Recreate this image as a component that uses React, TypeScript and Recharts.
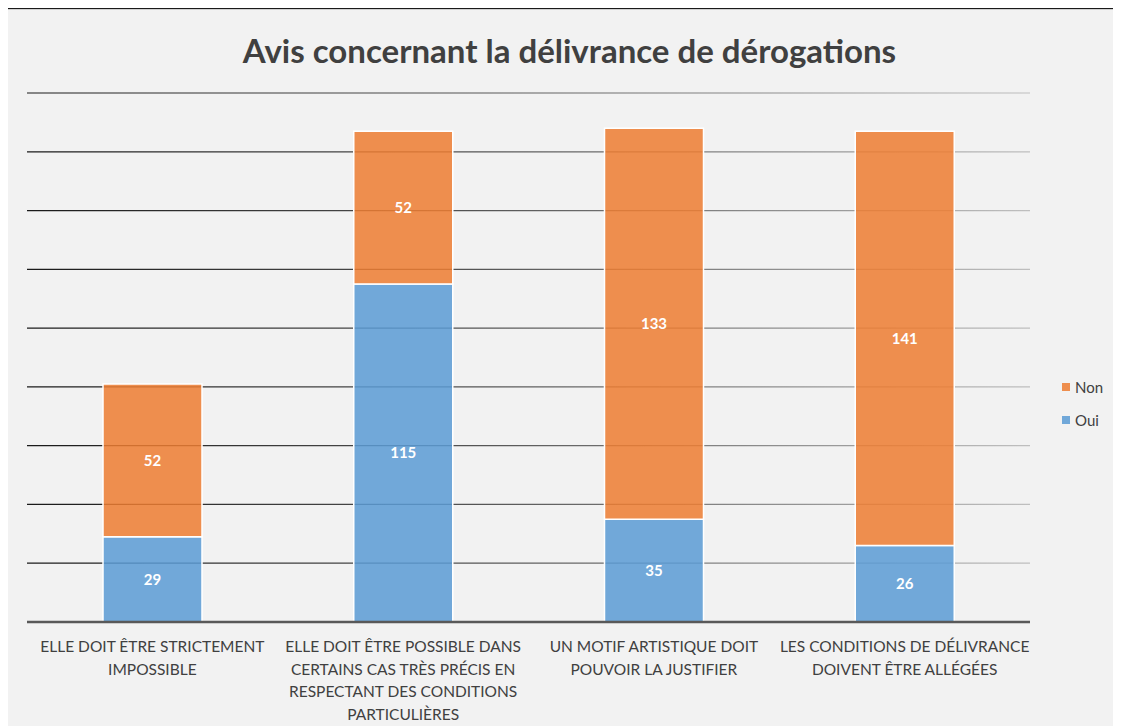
import React from 'react';
import {
  Bar,
  BarChart,
  CartesianGrid,
  LabelList,
  XAxis,
  YAxis,
} from 'recharts';

// categories (line breaks as in the original chart)
const categories: string[] = [
  'ELLE DOIT ÊTRE STRICTEMENT\nIMPOSSIBLE',
  'ELLE DOIT ÊTRE POSSIBLE DANS\nCERTAINS CAS TRÈS PRÉCIS EN\nRESPECTANT DES CONDITIONS\nPARTICULIÈRES',
  'UN MOTIF ARTISTIQUE DOIT\nPOUVOIR LA JUSTIFIER',
  'LES CONDITIONS DE DÉLIVRANCE\nDOIVENT ÊTRE ALLÉGÉES',
];

const ouiValues: number[] = [29, 115, 35, 26];
const nonValues: number[] = [52, 52, 133, 141];

const yTicks: number[] = [0, 20, 40, 60, 80, 100, 120, 140, 160, 180];

const data = categories.map((c, i) => ({
  name: c,
  Oui: ouiValues[i],
  Non: nonValues[i],
}));

const FONT = 'Lato, "Open Sans", sans-serif';

const XTick = (props: any) => {
  const { x, y, payload } = props;
  const lines: string[] = String(payload.value).split('\n');
  return (
    <g transform={`translate(${x},${y})`}>
      <text
        textAnchor="middle"
        fill="#404040"
        fontSize={15.5}
        fontFamily={FONT}
      >
        {lines.map((l, i) => (
          <tspan key={i} x={0} y={22 + i * 22.5}>
            {l}
          </tspan>
        ))}
      </text>
    </g>
  );
};

const legendItems = [
  { name: 'Non', color: '#ED7D31' },
  { name: 'Oui', color: '#5B9BD5' },
];

const App: React.FC = () => {
  return (
    <div
      style={{
        position: 'relative',
        width: 1125,
        height: 730,
        marginLeft: -4,
        background: '#f2f2f2',
        border: '1px solid #1a1a1a',
        boxShadow: 'inset 0 0 0 1px #cfcfcf',
        boxSizing: 'border-box',
        overflow: 'hidden',
      }}
    >
      <div
        style={{
          position: 'absolute',
          top: 21,
          left: 0,
          width: 1129,
          textAlign: 'center',
          fontFamily: FONT,
          fontWeight: 700,
          fontSize: 33,
          color: '#404040',
        }}
      >
        Avis concernant la délivrance de dérogations
      </div>
      <div
        style={{
          position: 'absolute',
          left: 1057,
          top: 361,
          fontFamily: FONT,
          fontSize: 15,
          color: '#404040',
        }}
      >
        {legendItems.map((it) => (
          <div
            key={it.name}
            style={{ display: 'flex', alignItems: 'center', height: 33 }}
          >
            <span
              style={{
                width: 8,
                height: 8,
                background: it.color,
                opacity: 0.85,
                marginRight: 5,
              }}
            />
            {it.name}
          </div>
        ))}
      </div>
      <BarChart
        width={1125}
        height={730}
        data={data}
        margin={{ top: 85, right: 99, left: 23, bottom: 16 }}
        barSize={99}
        style={{ position: 'absolute', top: -1, left: -1 }}
      >
        <defs>
          <linearGradient
            id="gridGrad"
            gradientUnits="userSpaceOnUse"
            x1={23}
            y1={0}
            x2={1026}
            y2={0}
          >
            <stop offset="0%" stopColor="#1a1a1a" />
            <stop offset="45%" stopColor="#555555" />
            <stop offset="100%" stopColor="#bfbfbf" />
          </linearGradient>
        </defs>
        <CartesianGrid
          vertical={false}
          stroke="url(#gridGrad)"
          strokeWidth={1.2}
        />
        <XAxis
          dataKey="name"
          interval={0}
          height={100}
          tick={<XTick />}
          tickLine={false}
          axisLine={{ stroke: '#595959', strokeWidth: 2.5 }}
        />
        <YAxis hide domain={[0, 180]} ticks={yTicks} />
        <Bar
          dataKey="Oui"
          stackId="a"
          fill="#5B9BD5"
          fillOpacity={0.85}
          stroke="#ffffff"
          strokeWidth={1.5}
          isAnimationActive={false}
        >
          <LabelList
            dataKey="Oui"
            position="center"
            fill="#ffffff"
            fontSize={15}
            fontWeight={700}
            fontFamily={FONT}
          />
        </Bar>
        <Bar
          dataKey="Non"
          stackId="a"
          fill="#ED7D31"
          fillOpacity={0.85}
          stroke="#ffffff"
          strokeWidth={1.5}
          isAnimationActive={false}
        >
          <LabelList
            dataKey="Non"
            position="center"
            fill="#ffffff"
            fontSize={15}
            fontWeight={700}
            fontFamily={FONT}
          />
        </Bar>
      </BarChart>
    </div>
  );
};

export default App;
